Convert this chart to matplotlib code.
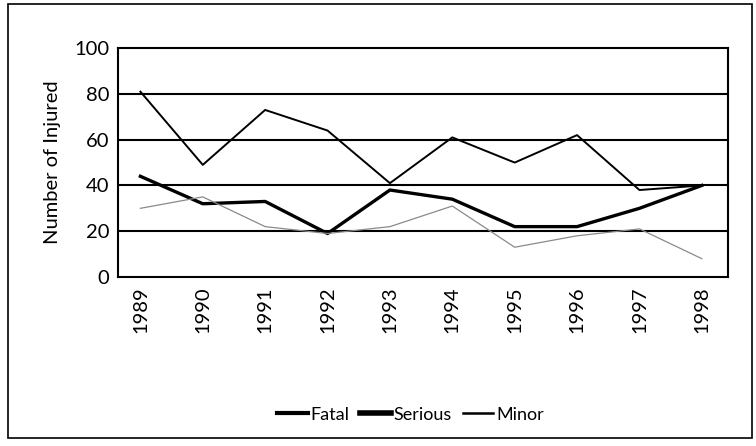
import matplotlib
matplotlib.use("Agg")
import matplotlib.pyplot as plt
from matplotlib.patches import Rectangle

years = ["1989", "1990", "1991", "1992", "1993", "1994", "1995", "1996", "1997", "1998"]
fatal = [81, 49, 73, 64, 41, 61, 50, 62, 38, 40]
serious = [44, 32, 33, 19, 38, 34, 22, 22, 30, 40]
minor = [30, 35, 22, 19, 22, 31, 13, 18, 21, 8]
y_ticks = [0, 20, 40, 60, 80, 100]

plt.rcParams["font.family"] = ["Lato", "DejaVu Sans"]

fig = plt.figure(figsize=(7.56, 4.46), dpi=100)
ax = fig.add_axes([0.156, 0.379, 0.807, 0.513])

x = list(range(len(years)))
ax.plot(x, fatal, color="black", lw=1.4, label="Fatal")
ax.plot(x, serious, color="black", lw=2.4, label="Serious")
ax.plot(x, minor, color="#8a8a8a", lw=0.9, label="Minor")

ax.set_ylim(0, 100)
ax.set_xlim(-0.36, 9.42)
ax.set_yticks(y_ticks)
ax.set_xticks(x)
ax.set_xticklabels(years, rotation=90)
ax.tick_params(length=0, labelsize=14.5)
ax.tick_params(axis="y", pad=6)
ax.tick_params(axis="x", pad=7)
for v in y_ticks[1:-1]:
    ax.axhline(v, color="black", lw=1.5, zorder=0)
for s in ax.spines.values():
    s.set_linewidth(1.5)
ax.set_ylabel("Number of Injured", fontsize=14.5, labelpad=10)

leg = fig.legend(loc="center", bbox_to_anchor=(0.543, 0.07), ncol=3, frameon=False,
                 fontsize=13, handlelength=1.7, handletextpad=0.15, columnspacing=0.6)
for line, w in zip(leg.get_lines(), [3, 4, 1.8]):
    line.set_linewidth(w)
    line.set_color("black")

fig.patches.append(Rectangle((0.011, 0.018), 0.984, 0.972, transform=fig.transFigure,
                             fill=False, edgecolor="black", lw=1.2))

fig.savefig("out.png", dpi=100)
